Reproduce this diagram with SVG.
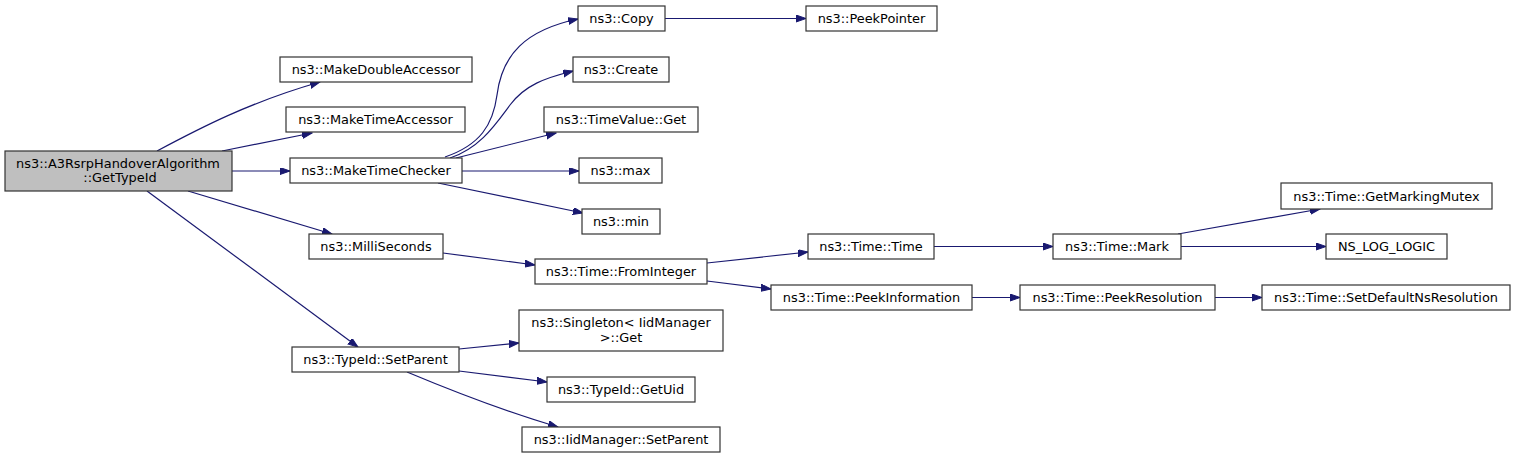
<svg xmlns="http://www.w3.org/2000/svg" width="1516" height="459" viewBox="0 0 1516 459">
<defs>
<marker id="arr" markerUnits="userSpaceOnUse" markerWidth="11" markerHeight="8" refX="10" refY="3.5" orient="auto">
<path d="M0,0 L10,3.5 L0,7 z" fill="#191970" stroke="#191970" stroke-width="1"/>
</marker>
<style>
.n rect{fill:#ffffff;stroke:#333333;stroke-width:1.2}
.root rect{fill:#bfbfbf}
.n text{font-family:"DejaVu Sans",sans-serif;font-size:12.9px;fill:#000000;text-anchor:middle}
.e path{fill:none;stroke:#191970;stroke-width:1.2;marker-end:url(#arr)}
</style>
</defs>
<rect width="1516" height="459" fill="#ffffff"/>
<g id="edges" class="e">
<path d="M157,151 C200,128 250,102 320,82"/>
<path d="M222,151 L312,133"/>
<path d="M232,171 L290,171"/>
<path d="M188,191 L332,234"/>
<path d="M147,191 L358,347"/>
<path d="M445,157 C480,145 493,125 497,95 C502,55 525,30 578,19"/>
<path d="M450,158 C480,148 495,125 510,105 C525,85 545,78 573,71"/>
<path d="M456,158 L556,133"/>
<path d="M462,171 L579,171"/>
<path d="M438,183 L583,213"/>
<path d="M665,18.5 L806,18.5"/>
<path d="M443,253 L535,265"/>
<path d="M707,263 L808,252"/>
<path d="M707,281 L771,289"/>
<path d="M934,246.5 L1053,246.5"/>
<path d="M1178,234 L1320,209"/>
<path d="M1181,246.5 L1326,246.5"/>
<path d="M972,297.5 L1020,297.5"/>
<path d="M1215,297.5 L1262,297.5"/>
<path d="M459,349 L519,343"/>
<path d="M459,371 L547,382"/>
<path d="M407,372 C450,390 500,410 558,427"/>
</g>
<g id="root" class="n root"><rect x="5" y="151" width="227" height="40"/><text x="118" y="167.5">ns3::A3RsrpHandoverAlgorithm</text><text x="120" y="181.5">::GetTypeId</text></g>
<g id="MakeDoubleAccessor" class="n"><rect x="280" y="57" width="192" height="25"/><text x="376" y="74">ns3::MakeDoubleAccessor</text></g>
<g id="MakeTimeAccessor" class="n"><rect x="286" y="107" width="179" height="25"/><text x="375.5" y="124">ns3::MakeTimeAccessor</text></g>
<g id="MakeTimeChecker" class="n"><rect x="290" y="158" width="172" height="25"/><text x="376" y="175">ns3::MakeTimeChecker</text></g>
<g id="MilliSeconds" class="n"><rect x="309" y="234" width="134" height="25"/><text x="376" y="251">ns3::MilliSeconds</text></g>
<g id="TypeIdSetParent" class="n"><rect x="292" y="347" width="167" height="25"/><text x="375.5" y="364">ns3::TypeId::SetParent</text></g>
<g id="Copy" class="n"><rect x="578" y="6" width="87" height="25"/><text x="621.5" y="23">ns3::Copy</text></g>
<g id="PeekPointer" class="n"><rect x="806" y="6" width="131" height="25"/><text x="871.5" y="23">ns3::PeekPointer</text></g>
<g id="Create" class="n"><rect x="573" y="57" width="96" height="25"/><text x="621" y="74">ns3::Create</text></g>
<g id="TimeValueGet" class="n"><rect x="544" y="107" width="154" height="25"/><text x="621" y="124">ns3::TimeValue::Get</text></g>
<g id="max" class="n"><rect x="579" y="158" width="83" height="25"/><text x="620.5" y="175">ns3::max</text></g>
<g id="min" class="n"><rect x="582" y="209" width="78" height="25"/><text x="621" y="226">ns3::min</text></g>
<g id="FromInteger" class="n"><rect x="535" y="259" width="172" height="25"/><text x="621" y="276">ns3::Time::FromInteger</text></g>
<g id="SingletonGet" class="n"><rect x="519" y="310" width="204" height="41"/><text x="621" y="326.5">ns3::Singleton&lt; IidManager</text><text x="621" y="341.5">&gt;::Get</text></g>
<g id="GetUid" class="n"><rect x="547" y="377" width="148" height="25"/><text x="621" y="394">ns3::TypeId::GetUid</text></g>
<g id="IidManagerSetParent" class="n"><rect x="522" y="427" width="198" height="25"/><text x="621" y="444">ns3::IidManager::SetParent</text></g>
<g id="TimeTime" class="n"><rect x="808" y="234" width="126" height="25"/><text x="871" y="251">ns3::Time::Time</text></g>
<g id="PeekInformation" class="n"><rect x="771" y="285" width="201" height="25"/><text x="871.5" y="302">ns3::Time::PeekInformation</text></g>
<g id="Mark" class="n"><rect x="1053" y="234" width="128" height="25"/><text x="1117" y="251">ns3::Time::Mark</text></g>
<g id="PeekResolution" class="n"><rect x="1020" y="285" width="195" height="25"/><text x="1117.5" y="302">ns3::Time::PeekResolution</text></g>
<g id="GetMarkingMutex" class="n"><rect x="1281" y="183" width="211" height="26"/><text x="1386.5" y="200.5">ns3::Time::GetMarkingMutex</text></g>
<g id="NS_LOG_LOGIC" class="n"><rect x="1326" y="234" width="121" height="25"/><text x="1386.5" y="251">NS_LOG_LOGIC</text></g>
<g id="SetDefaultNsResolution" class="n"><rect x="1262" y="285" width="248" height="25"/><text x="1386" y="302">ns3::Time::SetDefaultNsResolution</text></g>
</svg>
